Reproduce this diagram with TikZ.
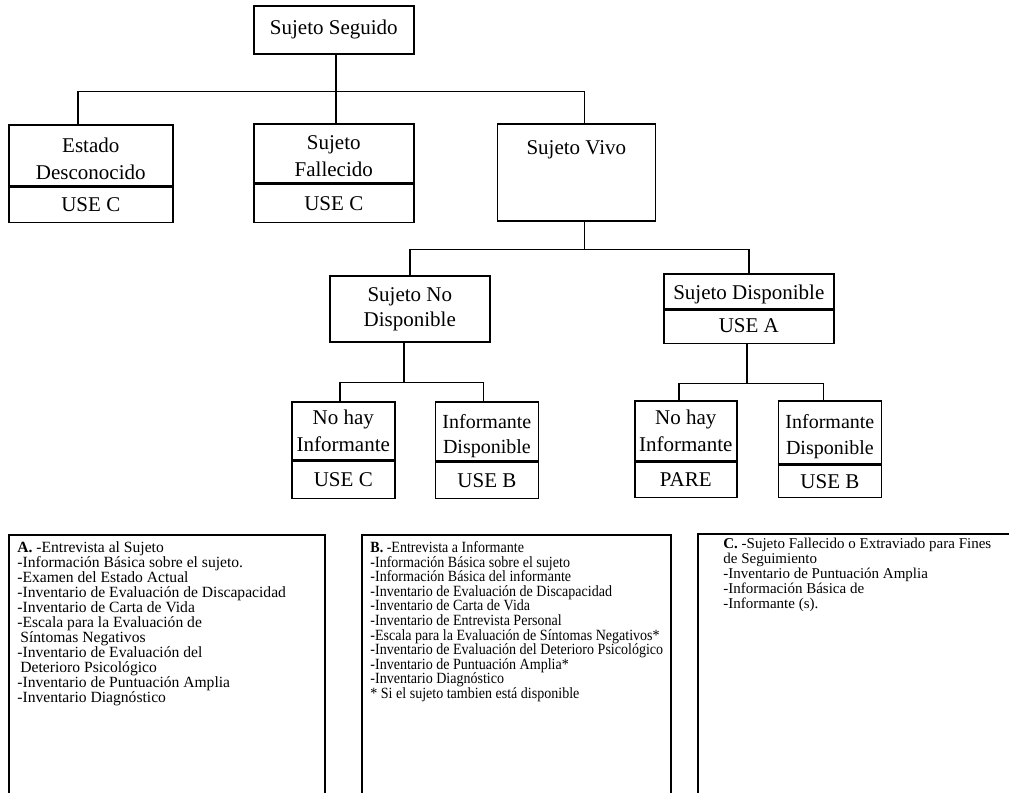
\documentclass[tikz,border=0pt]{standalone}
\usepackage{fontspec}
\setmainfont{Liberation Serif}
\newfontfamily\narrowserif[FakeStretch=0.9]{Liberation Serif}
\usepackage{tikz}
\usetikzlibrary{
  positioning,
  calc
}
\newcommand{\casestrut}[1]{\rule{0pt}{#1}}
\tikzset{
  casebox/.style={
    draw=black, line width=0.8pt, inner sep=0pt,
    font=\fontsize{10.5}{13.5}\selectfont, align=center
  },
  usebox/.style={
    draw=black, line width=0.8pt, inner sep=0pt,
    font=\fontsize{10.5}{13.5}\selectfont, align=center
  },
  treeline/.style={
    draw=black, line width=0.7pt
  },
  listtext/.style={
    inner sep=0pt, anchor=north west, align=left,
    font=\fontsize{7.8}{7.5}\selectfont
  },
  listframe/.style={
    draw=black, line width=0.7pt
  }
}

\begin{document}
\begin{tikzpicture}[
    node distance=0pt
  ]
    \useasboundingbox (0,0) rectangle (504.5pt,-396.5pt);

    \node[casebox, minimum width=80pt, minimum height=24pt, anchor=north west] (seguido) at (126.5pt,-2.5pt) {Sujeto Seguido};

    \node[casebox, minimum width=82pt, minimum height=30.5pt, anchor=north west] (estado) at (4pt,-62pt) {\casestrut{11.2pt}Estado\\Desconocido};
    \node[usebox, minimum width=82pt, minimum height=17.5pt, below=of estado] (estadouse) {USE C};

    \node[casebox, minimum width=80pt, minimum height=29.5pt, anchor=north west] (fallecido) at (126.5pt,-61.5pt) {\casestrut{10.2pt}Sujeto\\Fallecido};
    \node[usebox, minimum width=80pt, minimum height=19pt, below=of fallecido] (fallecidouse) {USE C};

    \node[casebox, minimum width=79pt, minimum height=48.5pt, text height=15.5pt, text depth=33pt, right=41pt of fallecido.north east, anchor=north west] (vivo) {Sujeto Vivo};

    \node[casebox, minimum width=80pt, minimum height=33pt, font=\fontsize{10.5}{12.5}\selectfont, anchor=north west] (nodisp) at (164.5pt,-137.5pt) {Sujeto No\\Disponible};

    \node[casebox, minimum width=85pt, minimum height=17.5pt, text height=13pt, text depth=4.5pt, anchor=north west] (disp) at (331.5pt,-136.5pt) {Sujeto Disponible};
    \node[usebox, minimum width=85pt, minimum height=16.5pt, text height=11pt, text depth=5.5pt, below=of disp] (dispuse) {USE A};

    \node[casebox, minimum width=51.5pt, minimum height=29pt, anchor=north west] (nohayl) at (145.5pt,-200.5pt) {No hay\\Informante};
    \node[usebox, minimum width=51.5pt, minimum height=18.5pt, below=of nohayl] (nohayluse) {USE C};

    \node[casebox, minimum width=51.5pt, minimum height=29.5pt, font=\fontsize{10}{12.5}\selectfont, right=19.5pt of nohayl.north east, anchor=north west] (infol) {\casestrut{11.8pt}Informante\\Disponible};
    \node[usebox, minimum width=51.5pt, minimum height=18pt, below=of infol] (infoluse) {USE B};

    \node[casebox, minimum width=51pt, minimum height=30pt, anchor=north west] (nohayr) at (317pt,-200pt) {No hay\\Informante};
    \node[usebox, minimum width=51pt, minimum height=17.5pt, below=of nohayr] (nohayruse) {PARE};

    \node[casebox, minimum width=51.5pt, minimum height=31.5pt, font=\fontsize{10}{13}\selectfont, right=20pt of nohayr.north east, anchor=north west] (infor) {\casestrut{11.3pt}Informante\\Disponible};
    \node[usebox, minimum width=51.5pt, minimum height=16pt, below=of infor] (inforuse) {USE B};

    % tree connectors
    \coordinate (busa) at ($(seguido.south)+(1pt,-18.5pt)$);
    \coordinate (busb) at ($([xshift=4pt]vivo.south)+(0,-14pt)$);
    \coordinate (busc) at ($([xshift=-3pt]nodisp.south)+(0,-20pt)$);
    \coordinate (busd) at ($([xshift=-1pt]dispuse.south)+(0,-19.5pt)$);

    \draw[treeline] ([xshift=1pt]seguido.south) -- ([xshift=1pt]seguido.south |- fallecido.north);
    \draw[treeline] ([xshift=-6.5pt]estado.north) |- (busa) -| ([xshift=4pt]vivo.north);

    \draw[treeline] ([xshift=4pt]vivo.south) -- (busb);
    \draw[treeline] (nodisp.north) |- (busb) -| (disp.north);

    \draw[treeline] ([xshift=-3pt]nodisp.south) -- (busc);
    \draw[treeline] ([xshift=-1.75pt]nohayl.north) |- (busc) -| ([xshift=-1.75pt]infol.north);

    \draw[treeline] ([xshift=-1pt]dispuse.south) -- (busd);
    \draw[treeline] ([xshift=-3.5pt]nohayr.north) |- (busd) -| ([xshift=-3.25pt]infor.north);

    % instrument lists
    \draw[listframe] (4.5pt,-396.5pt) |- (162.5pt,-267.5pt) -- (162.5pt,-396.5pt);
    \draw[listframe] (181pt,-396.5pt) |- (335.5pt,-267.5pt) -- (335.5pt,-396.5pt);
    \draw[listframe] (349pt,-396.5pt) |- (504.5pt,-267pt);

    \node[listtext] (lista) at (8.5pt,-270.6pt) {
      \textbf{A.} -Entrevista al Sujeto\\
      -Información Básica sobre el sujeto.\\
      -Examen del Estado Actual\\
      -Inventario de Evaluación de Discapacidad\\
      -Inventario de Carta de Vida\\
      -Escala para la Evaluación de\\
      \hspace*{1.5pt}Síntomas Negativos\\
      -Inventario de Evaluación del\\
      \hspace*{1.5pt}Deterioro Psicológico\\
      -Inventario de Puntuación Amplia\\
      -Inventario Diagnóstico
    };

    \node[listtext, font=\narrowserif\fontsize{7.8}{7.3}\selectfont] (listb) at (185pt,-270.6pt) {
      \textbf{B.} -Entrevista a Informante\\
      -Información Básica sobre el sujeto\\
      -Información Básica del informante\\
      -Inventario de Evaluación de Discapacidad\\
      -Inventario de Carta de Vida\\
      -Inventario de Entrevista Personal\\
      -Escala para la Evaluación de Síntomas Negativos*\\
      -Inventario de Evaluación del Deterioro Psicológico\\
      -Inventario de Puntuación Amplia*\\
      -Inventario Diagnóstico\\
      * Si el sujeto tambien está disponible
    };

    \node[listtext, font=\fontsize{7.5}{7.5}\selectfont] (listc) at (361.5pt,-268.8pt) {
      \textbf{C.} -Sujeto Fallecido o Extraviado para Fines\\
      de Seguimiento\\
      -Inventario de Puntuación Amplia\\
      -Información Básica de\\
      -Informante (s).
    };

  \end{tikzpicture}
\end{document}
